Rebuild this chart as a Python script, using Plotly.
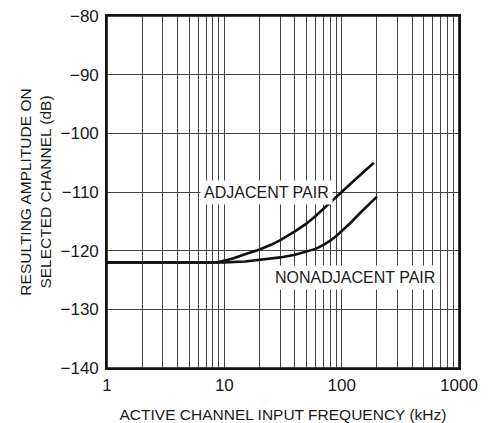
import numpy as np
import plotly.graph_objects as go

# Data
adj_freq = [1, 5, 8.6, 10, 12, 15, 20, 25, 30, 40, 50, 60, 70, 80, 90, 100, 125, 150, 188]
adj_db = [-122, -122, -122, -121.7, -121.3, -120.6, -119.8, -119.0, -118.2, -116.7, -115.4,
          -114.1, -112.9, -111.9, -110.9, -110.0, -108.2, -106.7, -105.0]

nonadj_freq = [1, 5, 10, 15, 20, 30, 40, 50, 60, 70, 80, 90, 100, 120, 145, 170, 200]
nonadj_db = [-122, -122, -122, -121.85, -121.6, -121.15, -120.7, -120.2, -119.7, -119.0,
             -118.3, -117.5, -116.7, -115.2, -113.5, -112.2, -110.8]

x_grid = [m * 10 ** d for d in range(3) for m in range(1, 10)] + [1000]
x_labels = {1: "1", 10: "10", 100: "100", 1000: "1000"}
y_ticks = [-140, -130, -120, -110, -100, -90, -80]

FONT = "Liberation Sans, Arial, sans-serif"
TXT = "#1a1a1a"

fig = go.Figure()
fig.add_trace(go.Scatter(x=adj_freq, y=adj_db, mode="lines",
                         line=dict(color="#111", width=2.6), showlegend=False))
fig.add_trace(go.Scatter(x=nonadj_freq, y=nonadj_db, mode="lines",
                         line=dict(color="#111", width=2.6), showlegend=False))

ticktext = [x_labels.get(v, "") for v in x_grid]

fig.update_xaxes(type="log", range=[0, 3], tickvals=x_grid, ticktext=ticktext,
                 showgrid=True, gridcolor="#444", gridwidth=1,
                 showline=True, linecolor="#111", linewidth=1.6, mirror=True,
                 ticks="", zeroline=False, automargin=False, ticklabelstandoff=1,
                 ticklabeloverflow="allow",
                 tickfont=dict(family=FONT, size=17, color=TXT),
                 title=dict(text="ACTIVE CHANNEL INPUT FREQUENCY (kHz)",
                            font=dict(family=FONT, size=15.5, color=TXT), standoff=17))
fig.update_yaxes(range=[-140, -80], tickvals=y_ticks,
                 showgrid=True, gridcolor="#444", gridwidth=1,
                 showline=True, linecolor="#111", linewidth=1.6, mirror=True,
                 ticks="", zeroline=False, automargin=False, ticklabelstandoff=3,
                 ticklabeloverflow="allow",
                 tickfont=dict(family=FONT, size=17, color=TXT),
                 title=dict(text="RESULTING AMPLITUDE ON<br>SELECTED CHANNEL (dB)",
                            font=dict(family=FONT, size=15.5, color=TXT), standoff=5))

fig.add_annotation(x=np.log10(22.9), y=-110, text="ADJACENT PAIR", showarrow=False,
                   bgcolor="white", borderpad=3,
                   font=dict(family=FONT, size=16, color=TXT))
fig.add_annotation(x=np.log10(129), y=-124.6, text="NONADJACENT PAIR", showarrow=False,
                   bgcolor="white", borderpad=3,
                   font=dict(family=FONT, size=16, color=TXT))

# plot frame
fig.add_shape(type="rect", xref="paper", yref="paper", x0=0, x1=1, y0=0, y1=1,
              line=dict(color="#111", width=1.6), layer="above")

fig.update_layout(width=488, height=423, margin=dict(l=107, r=29, t=16, b=55),
                  plot_bgcolor="white", paper_bgcolor="white")

# remove the page's default body margin so the figure fills the window exactly
fig.write_html("out.html", config={"displayModeBar": False},
               post_script="document.body.style.margin='0';document.body.style.overflow='hidden';")
